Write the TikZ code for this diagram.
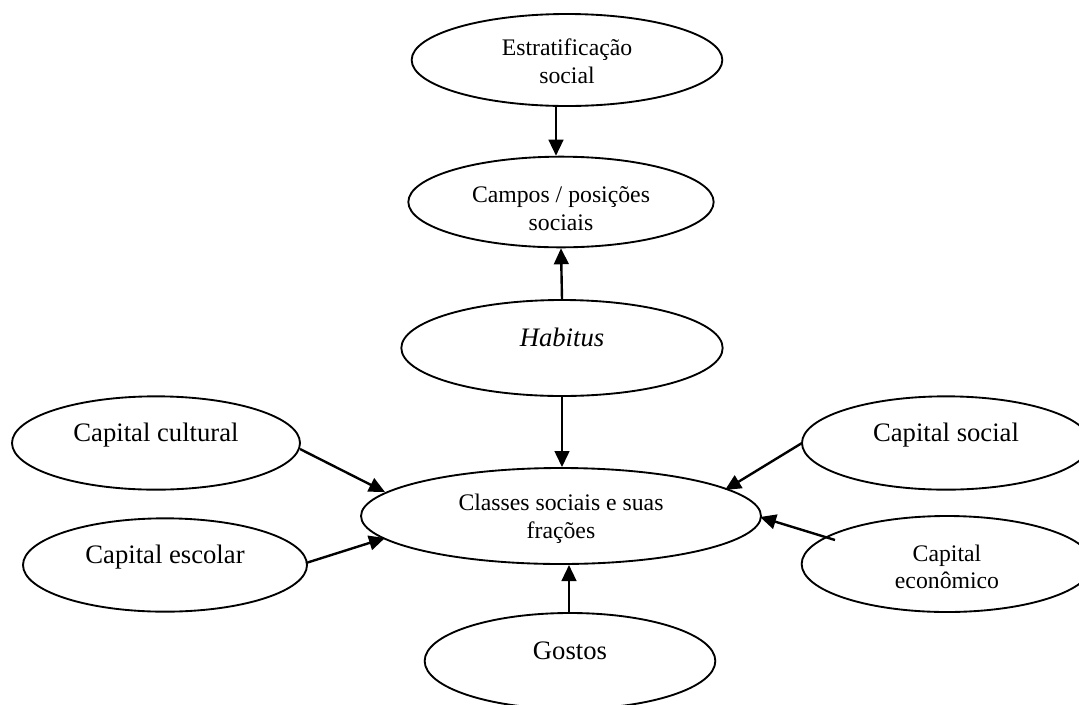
\documentclass[tikz,border=0pt]{standalone}
\usepackage{fontspec}
\setmainfont{Liberation Serif}
\usetikzlibrary{shapes.geometric,arrows.meta,calc}
\tikzset{
  ell/.style={draw, ellipse, line width=1.4pt, inner sep=0pt},
  big/.style={font=\fontsize{20}{23}\selectfont, anchor=base, inner sep=0pt},
  small/.style={font=\fontsize{17.8}{20.5}\selectfont, align=center, inner sep=0pt},
  arr/.style={line width=1.8pt, -{Triangle[length=12pt,width=11pt]}},
}
\begin{document}
\begin{tikzpicture}[x=0.75pt,y=-0.75pt]
\useasboundingbox (0,0) rectangle (1079,704);
\clip (0,0) rectangle (1079,704);
% ellipses
\node[ell, minimum width=233pt, minimum height=69pt] (est) at (567,60) {};
\node[ell, minimum width=229pt, minimum height=68pt] (cam) at (561,202) {};
\node[ell, minimum width=241pt, minimum height=72pt] (hab) at (562,348) {};
\node[ell, minimum width=300pt, minimum height=72pt] (cls) at (561,516) {};
\node[ell, minimum width=216pt, minimum height=70pt] (cult) at (156,443) {};
\node[ell, minimum width=213pt, minimum height=70pt] (esc) at (165,565) {};
\node[ell, minimum width=216pt, minimum height=70pt] (soc) at (946,443) {};
\node[ell, minimum width=218pt, minimum height=72pt] (eco) at (947,564) {};
\node[ell, minimum width=218pt, minimum height=72pt] (gos) at (570,661) {};
% texts
\node[small] (est-t) at ([yshift=-1pt]est.center) {Estratificação\\social};
\node[small] (cam-t) at ([yshift=-5pt]cam.center) {Campos / posições\\sociais};
\node[big] (hab-t) at ([yshift=1.4pt]hab.center) {\textit{Habitus}};
\node[small] (cls-t) at ([yshift=-2pt]cls.center) {Classes sociais e suas\\frações};
\node[big] (cult-t) at ([yshift=1.4pt]cult.center) {Capital cultural};
\node[big] (esc-t) at ([yshift=1.4pt]esc.center) {Capital escolar};
\node[big] (soc-t) at ([yshift=1.4pt]soc.center) {Capital social};
\node[small] (eco-t) at ([yshift=-2pt]eco.center) {Capital\\econômico};
\node[big] (gos-t) at ([yshift=1.4pt]gos.center) {Gostos};
% connectors
\draw[arr] ([xshift=-8.25pt]est.south) -- ([xshift=-3.75pt]cam.north);
\draw[arr] (hab.north) -- (cam.south);
\draw[arr] (hab.south) -- (hab.south |- cls.north);
\draw[arr] ($(cult.center)+(144,6)$) -- ($(cls.center)+(-176,-24)$);
\draw[arr] ($(esc.center)+(141,-2)$) -- ($(cls.center)+(-176,22)$);
\draw[arr] ($(soc.center)+(-144,0)$) -- ($(cls.center)+(164,-26)$);
\draw[arr] ($(eco.center)+(-112,-24)$) -- ($(cls.center)+(199,1)$);
\draw[arr] ($(gos.center)+(-1,-49)$) -- ($(cls.center)+(8,49)$);
\end{tikzpicture}
\end{document}
